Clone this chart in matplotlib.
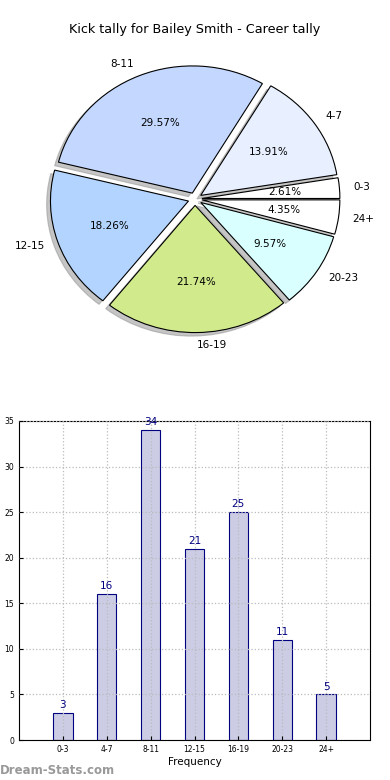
import numpy as np
import matplotlib
matplotlib.use("Agg")
from matplotlib import pyplot as plt

categories = ["0-3", "4-7", "8-11", "12-15", "16-19", "20-23", "24+"]
kicks      = [3, 16, 34, 21, 25, 11, 5]
pieColors  = ["#ffffff", "#e8f0ff", "#c4d8ff", "#b3d4ff", "#d1eb8c", "#d9ffff", "#ffffff"]
yTicks     = [0, 5, 10, 15, 20, 25, 30, 35]

fig = plt.figure(figsize=(3.9, 7.8), dpi=100)

# pie
axPie = fig.add_axes([22.5/390, 422/780, 345/390, 318/780])
wedges, texts, autotexts = axPie.pie(kicks, labels=categories, colors=pieColors,
                                     explode=[0.05]*len(kicks),
                                     shadow=dict(ox=-0.02, oy=-0.02, facecolor="#8c8c8c",
                                                 edgecolor="#8c8c8c"),
                                     startangle=0, autopct="%.2f%%", pctdistance=0.6,
                                     labeldistance=1.1,
                                     wedgeprops=dict(edgecolor="black", linewidth=0.8),
                                     textprops=dict(fontsize=7.5))
axPie.set_aspect("auto")
axPie.set_xlim(-1.25, 1.25)
axPie.set_ylim(-1.25, 1.25)
axPie.axis("off")
fig.text(0.5, 1 - 30/780, "Kick tally for Bailey Smith - Career tally", ha="center", va="center", fontsize=9.2)

# bars
axBar = fig.add_axes([19/390, 40/780, 351/390, 319/780])
x = np.arange(len(categories))
axBar.bar(x, kicks, width=0.44, color="#ccccE5", edgecolor="#000080", linewidth=0.8, zorder=1)
for xi, v in zip(x, kicks):
  axBar.text(xi, v + 0.3, str(v), ha="center", va="bottom", color="#000080", fontsize=7.5)
axBar.set_xlim(-1, 7)
axBar.set_ylim(0, 35)
axBar.set_xticks(x)
axBar.set_xticklabels(categories, fontsize=5.5)
axBar.set_yticks(yTicks)
axBar.tick_params(axis="y", labelsize=5.5, length=3, direction="in")
axBar.tick_params(axis="x", length=3, direction="in")
axBar.grid(True, linestyle=":", color="#bbbbbb", linewidth=0.9, zorder=2)
axBar.set_axisbelow(False)
axBar.set_xlabel("Frequency", fontsize=7.5, labelpad=2)
axBar.set_ylabel("Occurrences", fontsize=7.5, labelpad=4)
axBar.yaxis.set_label_coords(-0.07, 0.5)

fig.text(0.0, 1 - 770/780, "Dream-Stats.com", ha="left", va="center", fontsize=8.5,
         color="#999999", fontweight="bold")

fig.savefig("out.png", dpi=100)
